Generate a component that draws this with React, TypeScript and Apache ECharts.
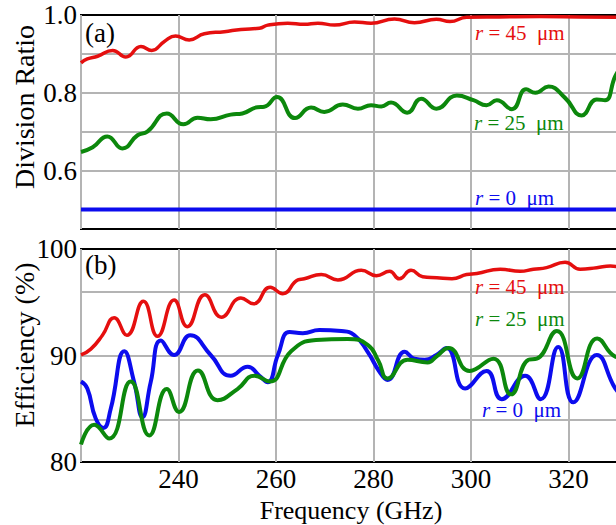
import React, { useEffect, useRef } from "react";
import * as echarts from "echarts";

// ---------- Panel (a): Division ratio ----------
const divR45Freq = [220, 221.3, 223.4, 226.5, 229.2, 232.3, 234.5, 237.1, 239.4, 242.2, 245.3, 249.4, 252.8, 256.6, 258.3, 262.4, 265.8, 268.6, 272.0, 276.1, 279.5, 284.3, 288.4, 292.9, 295.7, 299.1, 305.8, 314.1, 322.3, 331];
const divR45Val = [0.877, 0.887, 0.894, 0.909, 0.892, 0.919, 0.909, 0.932, 0.946, 0.936, 0.952, 0.957, 0.963, 0.966, 0.974, 0.979, 0.976, 0.979, 0.974, 0.982, 0.979, 0.990, 0.980, 0.989, 0.983, 0.994, 0.995, 0.996, 0.995, 0.994];

const divR25Freq = [220, 222.4, 225.4, 228.5, 231.6, 233.6, 237.6, 241.0, 243.9, 246.6, 250.7, 253.1, 256.2, 257.6, 260.2, 263.9, 267.2, 269.9, 273.7, 276.8, 279.5, 281.6, 283.6, 286.9, 289.8, 292.9, 297.1, 300.5, 303.2, 305.3, 308.4, 311.3, 313.2, 315.9, 319.3, 322.7, 325.8, 327.5, 329.6, 331];
const divR25Val = [0.648, 0.660, 0.688, 0.657, 0.691, 0.700, 0.747, 0.719, 0.736, 0.732, 0.744, 0.747, 0.763, 0.764, 0.789, 0.735, 0.762, 0.751, 0.770, 0.759, 0.768, 0.765, 0.775, 0.749, 0.785, 0.759, 0.793, 0.781, 0.768, 0.781, 0.758, 0.809, 0.800, 0.816, 0.787, 0.742, 0.783, 0.781, 0.843, 0.87];

const divR0Freq = [220, 331];
const divR0Val = [0.5, 0.5];

// ---------- Panel (b): Efficiency (%) ----------
const effR45Freq = [220, 222.0, 224.4, 226.8, 229.4, 232.8, 235.7, 239.1, 241.8, 245.4, 248.8, 252.8, 255.4, 258.8, 261.4, 264.5, 265.8, 269.3, 272.7, 277.5, 280.6, 283.3, 285.3, 287.7, 290.1, 293.0, 296.1, 299.1, 301.2, 306.0, 310.1, 312.8, 315.5, 319.3, 322.4, 325.8, 328.6, 331];
const effR45Val = [90.05, 90.6, 91.9, 93.55, 91.9, 95.1, 91.8, 95.2, 92.7, 95.7, 93.6, 95.4, 94.85, 96.4, 95.8, 97.1, 97.2, 97.6, 97.1, 98.0, 97.5, 97.9, 97.2, 98.0, 97.4, 97.3, 97.2, 97.6, 97.7, 98.1, 97.9, 98.1, 98.25, 98.75, 98.1, 98.25, 98.4, 98.2];

const effR25Freq = [220, 222.7, 225.8, 230.2, 234.0, 237.6, 240.1, 244.0, 248.0, 252.1, 255.6, 258.7, 263.1, 268.2, 274.7, 278.8, 281.0, 282.9, 287.0, 291.1, 292.9, 295.4, 299.7, 304.6, 308.2, 311.8, 313.5, 317.6, 321.8, 325.9, 329.6, 331];
const effR25Val = [81.65, 83.5, 82.2, 87.55, 82.5, 86.85, 84.7, 88.6, 85.8, 86.85, 88.1, 87.55, 90.4, 91.45, 91.55, 91.0, 89.5, 87.85, 89.6, 89.35, 89.9, 90.7, 88.55, 89.7, 86.35, 89.6, 89.7, 92.3, 87.85, 91.6, 89.9, 89.8];

const effR0Freq = [220, 221.3, 223.0, 224.6, 226.1, 228.9, 230.9, 232.6, 234.3, 236.4, 239.1, 242.4, 246.6, 250.7, 254.2, 256.6, 258.3, 260.4, 262.8, 265.5, 268.9, 273.4, 276.1, 278.8, 281.2, 282.9, 286.4, 288.4, 290.5, 292.9, 295.0, 298.8, 303.2, 306.3, 311.1, 314.3, 317.9, 321.0, 325.8, 329.6, 331];
const effR0Val = [87.55, 86.9, 84.1, 83.2, 85.0, 90.4, 87.5, 84.2, 87.5, 91.4, 90.05, 91.9, 90.05, 88.1, 88.95, 88.1, 87.5, 90.05, 92.2, 92.1, 92.4, 92.3, 91.9, 90.35, 88.5, 87.7, 90.35, 89.7, 89.6, 90.05, 90.7, 86.9, 88.55, 85.9, 88.1, 85.9, 90.8, 85.6, 90.05, 86.9, 86.3];

// ---------- Axes / grid lines ----------
const divGridLines = [0.5, 0.6, 0.7, 0.8, 0.9];
const divTickLabels = [0.6, 0.8, 1.0];
const effGridLines = [84, 90, 96];
const freqTickLabels = [240, 260, 280, 300, 320];

const FONT = "'Liberation Serif', 'Times New Roman', serif";
const RED = "#e50f0f";
const GREEN = "#0c880c";
const BLUE = "#0c0cee";
const GRID = "#b4b4b4";

const zip = (f: number[], v: number[]) => f.map((x, i) => [x, v[i]]);

export default function App() {
  const ref = useRef<HTMLDivElement>(null);

  useEffect(() => {
    if (!ref.current) return;
    const chart = echarts.init(ref.current, null, { renderer: "svg" });

    const curve = (name: string, xi: number, data: number[][], color: string, width: number) => ({
      name,
      type: "line",
      xAxisIndex: xi,
      yAxisIndex: xi,
      data,
      smooth: 0.5,
      symbol: "none",
      showSymbol: false,
      z: 3,
      clip: true,
      lineStyle: { color, width },
      itemStyle: { color },
      emphasis: { disabled: true },
      silent: true,
    });

    const gridSeries = (xi: number, data: number[][], lines: number[]) => ({
      type: "line",
      xAxisIndex: xi,
      yAxisIndex: xi,
      data,
      symbol: "none",
      showSymbol: false,
      z: 1,
      silent: true,
      lineStyle: { opacity: 0, width: 0 },
      markLine: {
        z: 1,
        silent: true,
        symbol: ["none", "none"],
        label: { show: false },
        animation: false,
        emphasis: { disabled: true },
        lineStyle: { color: GRID, width: 2, type: "solid" },
        data: lines.map((v) => ({ yAxis: v })),
      },
    });

    const labelStyle = { fontSize: 27, fontFamily: FONT, color: "#000" };

    const annot = (x: number, y: number, r: string, color: string) => ({
      type: "text",
      x,
      y,
      z: 10,
      style: {
        text: `{i|r} = ${r}  μm`,
        fill: color,
        fontSize: 21,
        fontFamily: FONT,
        align: "left",
        verticalAlign: "middle",
        rich: {
          i: { fontStyle: "italic", fontSize: 21, fontFamily: FONT, fill: color },
        },
      },
    });

    const option: any = {
      animation: false,
      backgroundColor: "#fff",
      grid: [
        { left: 81, top: 15, width: 560.6, height: 214, show: true, borderColor: "#000", borderWidth: 2, backgroundColor: "transparent" },
        { left: 81, top: 249, width: 560.6, height: 213, show: true, borderColor: "#000", borderWidth: 2, backgroundColor: "transparent" },
      ],
      xAxis: [0, 1].map((i) => ({
        gridIndex: i,
        type: "value",
        min: 220,
        max: 335,
        interval: 20,
        axisLine: { show: false },
        axisTick: { show: false },
        splitLine: { show: true, lineStyle: { color: GRID, width: 2 } },
        axisLabel: {
          show: i === 1,
          ...labelStyle,
          margin: 3,
          formatter: (v: number) => (freqTickLabels.includes(Math.round(v)) ? String(Math.round(v)) : ""),
        },
      })),
      yAxis: [
        {
          gridIndex: 0,
          type: "value",
          min: 0.45,
          max: 1.0,
          interval: 0.05,
          axisLine: { show: false },
          axisTick: { show: false },
          splitLine: { show: false },
          axisLabel: {
            ...labelStyle,
            margin: 4,
            formatter: (v: number) =>
              divTickLabels.some((t) => Math.abs(t - v) < 1e-6) ? v.toFixed(1) : "",
          },
        },
        {
          gridIndex: 1,
          type: "value",
          min: 80,
          max: 100,
          interval: 10,
          axisLine: { show: false },
          axisTick: { show: false },
          splitLine: { show: false },
          axisLabel: { ...labelStyle, margin: 4 },
        },
      ],
      series: [
        gridSeries(0, zip(divR0Freq, divR0Val), divGridLines),
        gridSeries(1, zip(divR0Freq, [90, 90]), effGridLines),
        curve("r = 0 μm (a)", 0, zip(divR0Freq, divR0Val), BLUE, 4),
        curve("r = 25 μm (a)", 0, zip(divR25Freq, divR25Val), GREEN, 4),
        curve("r = 45 μm (a)", 0, zip(divR45Freq, divR45Val), RED, 3.5),
        curve("r = 0 μm (b)", 1, zip(effR0Freq, effR0Val), BLUE, 4),
        curve("r = 25 μm (b)", 1, zip(effR25Freq, effR25Val), GREEN, 4),
        curve("r = 45 μm (b)", 1, zip(effR45Freq, effR45Val), RED, 3.5),
      ],
      graphic: [
        { type: "text", x: 85, y: 33, z: 10, style: { text: "(a)", fontSize: 27, fontFamily: FONT, fill: "#000", align: "left", verticalAlign: "middle" } },
        { type: "text", x: 85, y: 265, z: 10, style: { text: "(b)", fontSize: 27, fontFamily: FONT, fill: "#000", align: "left", verticalAlign: "middle" } },
        { type: "text", x: 24, y: 107, rotation: Math.PI / 2, style: { text: "Division Ratio", fontSize: 28, fontFamily: FONT, fill: "#000", align: "center", verticalAlign: "middle" } },
        { type: "text", x: 24, y: 345, rotation: Math.PI / 2, style: { text: "Efficiency (%)", fontSize: 28, fontFamily: FONT, fill: "#000", align: "center", verticalAlign: "middle" } },
        { type: "text", x: 351, y: 510, style: { text: "Frequency (GHz)", fontSize: 26, fontFamily: FONT, fill: "#000", align: "center", verticalAlign: "middle" } },
        annot(475, 33, "45", RED),
        annot(474, 123, "25", GREEN),
        annot(475, 198, "0", BLUE),
        annot(475, 287, "45", RED),
        annot(475, 319, "25", GREEN),
        annot(482, 410, "0", BLUE),
      ],
    };

    chart.setOption(option);
    return () => chart.dispose();
  }, []);

  return (
    <div style={{ position: "fixed", left: 0, top: 0, width: 616, height: 525, overflow: "hidden", background: "#fff" }}>
      <div ref={ref} style={{ width: 650, height: 525 }} />
    </div>
  );
}
